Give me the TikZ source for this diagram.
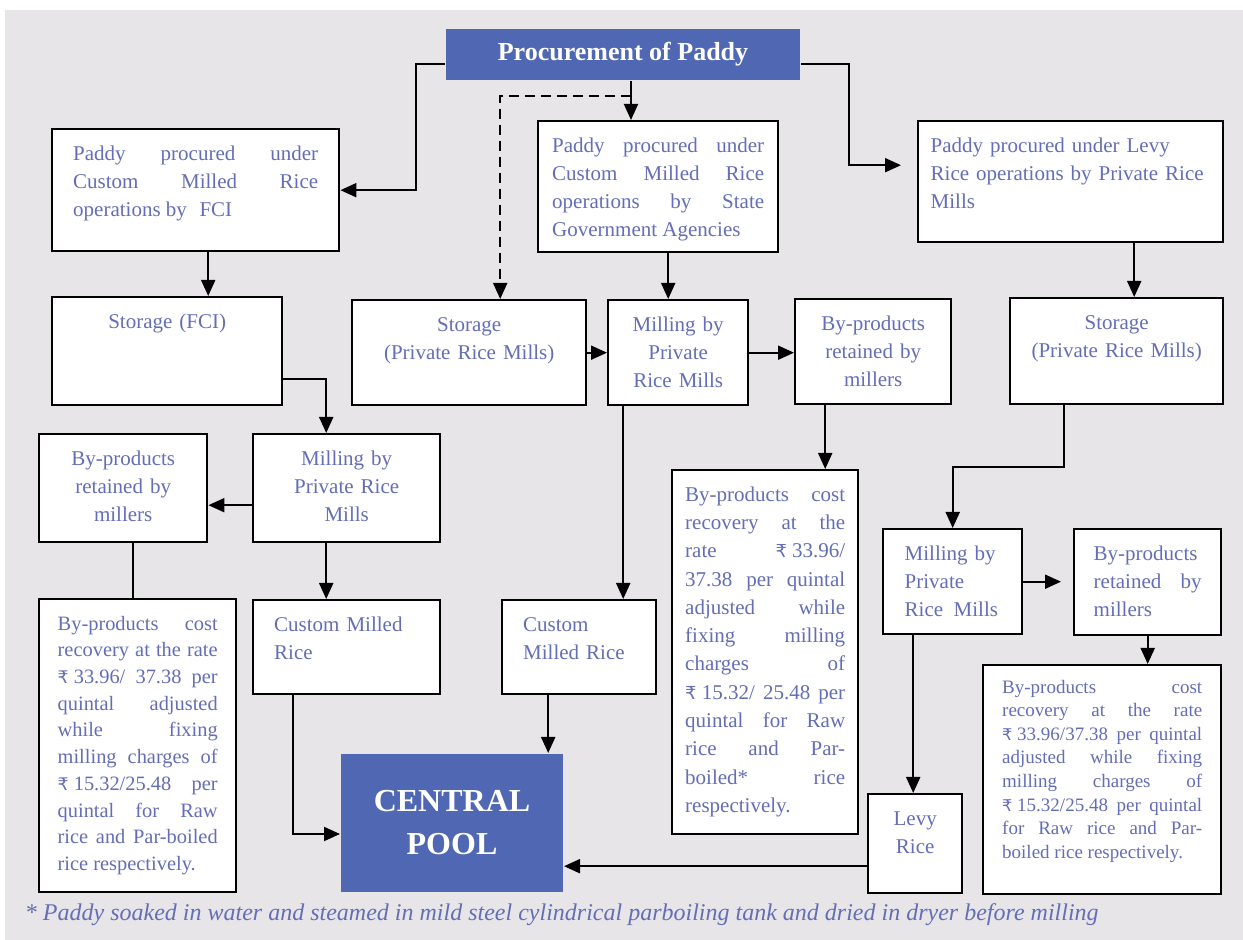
\documentclass[tikz,border=0pt]{standalone}
\usepackage{fontspec}
\usepackage{tikz}
\usepackage{xcolor}
\usetikzlibrary{arrows.meta, positioning, calc}
\setmainfont{Liberation Serif}
\newfontfamily\rupfont{DejaVu Sans}[Scale=0.85]
\newcommand{\rs}{{\rupfont ₹}\hspace{0.25em}}
\hyphenpenalty=10000
\exhyphenpenalty=10000
\definecolor{bggray}{RGB}{231,229,231}
\definecolor{procblue}{RGB}{80,104,180}
\definecolor{txtblue}{RGB}{100,110,182}

\begin{document}
\begin{tikzpicture}[x=0.5pt, y=-0.5pt, line width=1pt, >={Triangle[length=8pt, width=7pt]},
    box/.style={draw, fill=white, line width=1.2pt, anchor=north west, inner xsep=0pt, inner ysep=5pt,
        text height=10.5pt, text=txtblue, font=\fontsize{10.5}{14}\selectfont},
    pool/.style={fill=procblue, anchor=north west, text=white, inner sep=0pt, align=center}]
    \useasboundingbox (0,0) rectangle (1243,940);
    \fill[bggray] (5,10) rectangle (1243,940);

    % Nodes
    \node[pool, minimum width=177pt, minimum height=25.5pt, font=\bfseries\fontsize{13}{15}\selectfont] (proc) at (445,28) {Procurement of Paddy};

    \node[box, minimum width=143.5pt, text width=122.5pt, text depth=40.5pt, align=justify] (fcicmr) at (51,128)
        {Paddy procured under\linebreak Custom Milled Rice\linebreak operations by\hspace{0.6em}FCI};
    \node[box, minimum width=120pt, text width=106pt, text depth=45pt, align=justify] (sgacmr) at (537,120)
        {Paddy procured under\linebreak Custom Milled Rice\linebreak operations by State\linebreak Government Agencies};
    \node[box, minimum width=152.5pt, text width=140pt, text depth=40pt, align=left] (levy) at (917,120)
        {Paddy procured under Levy\\ Rice operations by Private Rice\\ Mills};

    \node[box, minimum width=115pt, text width=100pt, text depth=33.5pt, align=center] (stfci) at (51,296) {Storage (FCI)};
    \node[box, minimum width=117pt, text width=105pt, text depth=32pt, align=center] (stprm) at (351,299) {Storage\\ (Private Rice Mills)};
    \node[box, minimum width=70pt, text width=60pt, text depth=32pt, align=center] (millmid) at (607,299) {Milling by\\ Private\\ Rice Mills};
    \node[box, minimum width=78pt, text width=66pt, text depth=32pt, align=center] (bymid) at (794,298) {By-products\\ retained by\\ millers};
    \node[box, minimum width=106.5pt, text width=96pt, text depth=32.5pt, align=center] (stright) at (1009,297) {Storage\\ (Private Rice Mills)};

    \node[box, minimum width=84pt, text width=72pt, text depth=33.5pt, align=center] (byleft) at (38,433) {By-products\\ retained by\\ millers};
    \node[box, minimum width=93.5pt, text width=80pt, text depth=33.5pt, align=center] (millleft) at (252,433) {Milling by\\ Private Rice\\ Mills};

    \node[box, minimum width=98.5pt, text width=80pt, text depth=126pt, align=justify, font=\fontsize{10.2}{13.35}\selectfont] (costleft) at (38,598)
        {By-products cost\linebreak recovery at the rate\linebreak \rs 33.96/ 37.38 per\linebreak quintal adjusted\linebreak while fixing\linebreak
         milling charges of\linebreak \rs 15.32/25.48 per\linebreak quintal for Raw\linebreak rice and Par-boiled\linebreak rice respectively.};
    \node[box, minimum width=93.5pt, text width=72.5pt, text depth=26.5pt, align=left] (cmrleft) at (252,599) {Custom Milled\\ Rice};
    \node[box, minimum width=77pt, text width=56pt, text depth=26.5pt, align=left] (cmrmid) at (501,599) {Custom\\ Milled Rice};

    \node[box, minimum width=93pt, text width=80pt, text depth=161.5pt, align=justify, font=\fontsize{10.5}{14.15}\selectfont] (costmid) at (671,469)
        {By-products cost\linebreak recovery at the\linebreak rate \rs 33.96/\linebreak 37.38 per quintal\linebreak adjusted while\linebreak fixing milling\linebreak
         charges of\linebreak \rs 15.32/ 25.48 per\linebreak quintal for Raw\linebreak rice and Par-\linebreak boiled* rice\linebreak respectively.};

    \node[box, minimum width=69.5pt, text width=48pt, text depth=32pt, align=left] (millright) at (882,528) {Milling by\\ Private\\ Rice\hspace{0.5em}Mills};
    \node[box, minimum width=73.5pt, text width=54pt, text depth=32.5pt, align=justify] (byright) at (1073,528) {By-products\linebreak retained by\linebreak millers};
    \node[box, minimum width=119pt, text width=100pt, text height=9pt, text depth=95.5pt, align=justify, font=\fontsize{9.5}{11.8}\selectfont] (costright) at (982,664)
        {By-products cost\linebreak recovery at the rate\linebreak \rs 33.96/37.38 per quintal\linebreak adjusted while fixing\linebreak milling charges of\linebreak
         \rs 15.32/25.48 per quintal\linebreak for Raw rice and Par-\linebreak boiled rice respectively.};
    \node[box, minimum width=47pt, text width=40pt, text depth=29pt, align=center] (levyrice) at (867,793) {Levy\\ Rice};

    \node[pool, minimum width=111pt, minimum height=69pt, font=\bfseries\fontsize{16}{21.5}\selectfont] (central) at (340,753) {CENTRAL\\ POOL};

    \node[anchor=west, inner sep=0pt, text=txtblue, font=\itshape\fontsize{12}{14}\selectfont] (note) at (24,915)
        {* Paddy soaked in water and steamed in mild steel cylindrical parboiling tank and dried in dryer before milling};

    % Arrows
    \draw[->] ([yshift=-4.75pt]proc.west) -| ([xshift=38pt]fcicmr.east) -- (fcicmr.east);
    \draw[->, shorten >=8pt] ([yshift=-4.75pt]proc.east) -| ([xshift=-34pt, yshift=8.25pt]levy.west) -- ([yshift=8.25pt]levy.west);
    \draw[->] ([xshift=4pt]proc.south) -- ([xshift=4pt]proc.south |- sgacmr.north);
    \draw[->, dash pattern=on 5pt off 3pt] ([xshift=4pt, yshift=-7.5pt]proc.south) -| ([xshift=15.5pt]stprm.north);

    \draw[->] ([xshift=6.25pt]fcicmr.south) -- ([xshift=6.25pt]fcicmr.south |- stfci.north);
    \draw[->] ([yshift=-14pt]stfci.east) -| ([xshift=-10.25pt]millleft.north);
    \draw[->] ([yshift=-8.5pt]millleft.west) -- ([yshift=-8.5pt]millleft.west -| byleft.east);
    \draw ([xshift=5pt]byleft.south) -- ([xshift=5pt]byleft.south |- costleft.north);
    \draw[->] ([xshift=-10.25pt]millleft.south) -- ([xshift=-10.25pt]millleft.south |- cmrleft.north);
    \draw[->] ([xshift=-26.75pt]cmrleft.south) |- ([yshift=-5.5pt]central.west);

    \draw[->] ([xshift=5pt]sgacmr.south) -- ([xshift=5pt]sgacmr.south |- millmid.north);
    \draw[->] (stprm.east) -- (stprm.east -| millmid.west);
    \draw[->] (millmid.east) -- (millmid.east -| bymid.west);
    \draw[->] ([xshift=-24pt]bymid.south) -- ([xshift=-24pt]bymid.south |- costmid.north);
    \draw[->] ([xshift=-27.5pt]millmid.south) -- ([xshift=-27.5pt]millmid.south |- cmrmid.north);
    \draw[->] ([xshift=-15.5pt]cmrmid.south) -- ([xshift=-15.5pt]cmrmid.south |- central.north);

    \draw[->] ([xshift=8.75pt]stright.north |- levy.south) -- ([xshift=8.75pt]stright.north);
    \draw[->] ([xshift=-26.25pt]stright.south) -- ++(0,62) -| (millright.north);
    \draw[->, shorten >=6pt] (millright.east) -- (millright.east -| byright.west);
    \draw[->] (byright.south) -- (byright.south |- costright.north);
    \draw[->] ([xshift=-19.75pt]millright.south) -- ([xshift=-19.75pt]millright.south |- levyrice.north);
    \draw[->] ([yshift=-11.25pt]levyrice.west) -- ([yshift=-11.25pt]levyrice.west -| central.east);
\end{tikzpicture}
\end{document}
